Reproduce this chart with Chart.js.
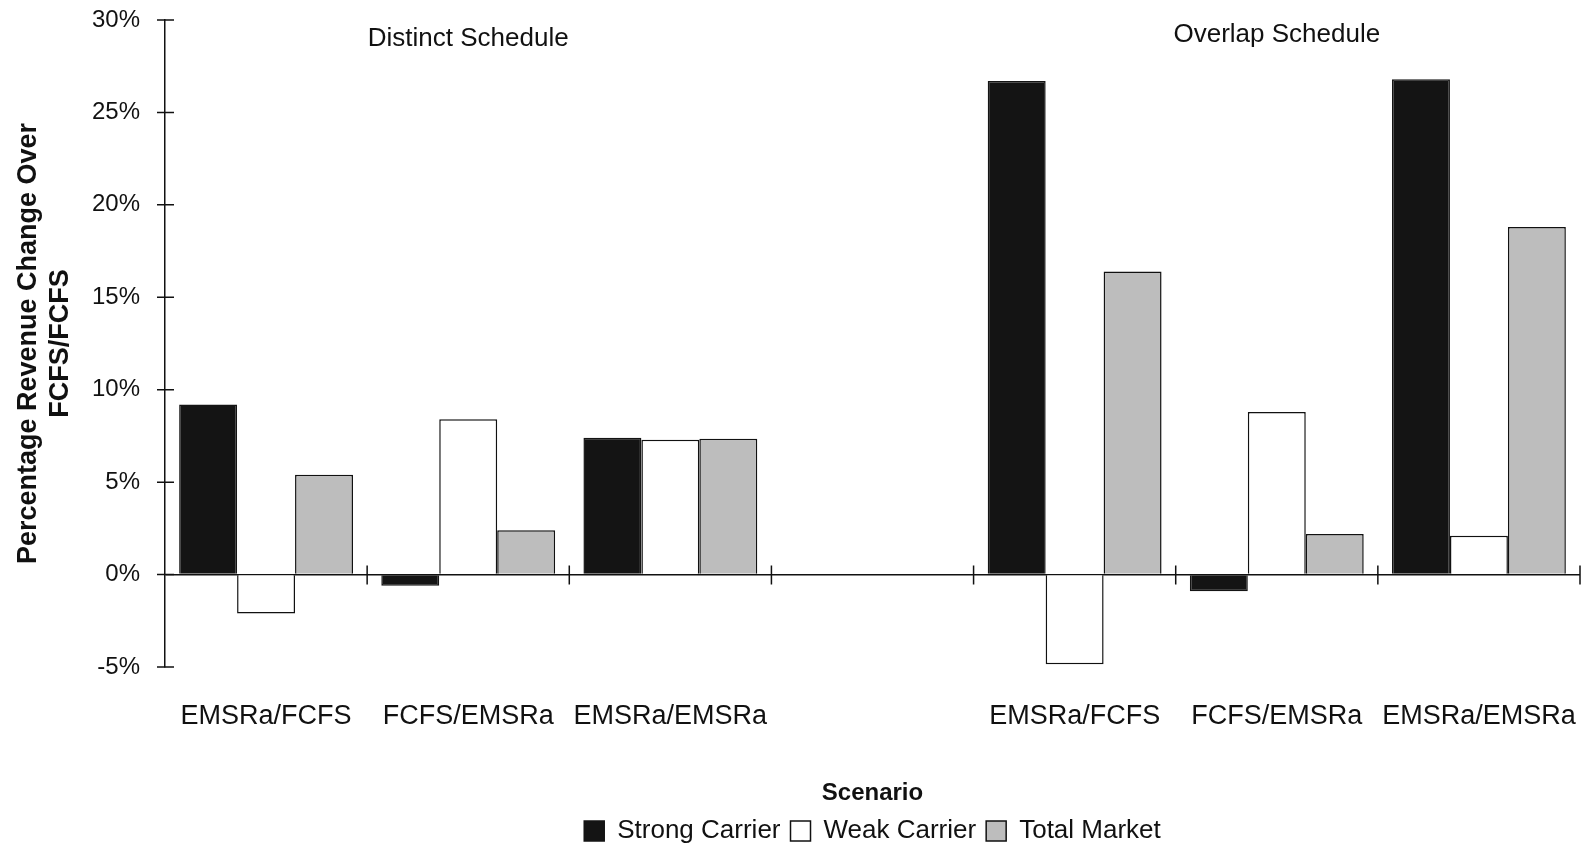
<!DOCTYPE html>
<html>
<head>
<meta charset="utf-8">
<script src="https://cdn.jsdelivr.net/npm/chart.js@4/dist/chart.umd.min.js"></script>
<style>
  html, body { margin: 0; padding: 0; background: #fff; }
  #wrap { width: 1583px; height: 846px; }
</style>
</head>
<body>
<div id="wrap"><canvas id="chart"></canvas></div>
<script>
const scenarios = ["EMSRa/FCFS", "FCFS/EMSRa", "EMSRa/EMSRa", "", "EMSRa/FCFS", "FCFS/EMSRa", "EMSRa/EMSRa"];
const strongCarrier = [9.2, -0.6, 7.4, null, 26.7, -0.9, 26.8];
const weakCarrier = [-2.1, 8.4, 7.3, null, -4.85, 8.8, 2.1];
const totalMarket = [5.4, 2.4, 7.35, null, 16.4, 2.2, 18.8];
const yTicks = [-5, 0, 5, 10, 15, 20, 25, 30];
const groupNotes = [
    { text: "Distinct Schedule", index: 1, y: 29.0 },
    { text: "Overlap Schedule", index: 5, y: 29.2 }
];

const FONT = "'Liberation Sans', Arial, Helvetica, sans-serif";
const INK = "#111";
const CLEAR = "rgba(0,0,0,0)";

// crossing tick marks on both axes + the schedule headings
const decorations = {
    id: "decorations",
    afterDraw(chart) {
        const ctx = chart.ctx;
        const x = chart.scales.x;
        const y = chart.scales.y;
        const y0 = y.getPixelForValue(0);
        ctx.save();
        ctx.strokeStyle = INK;
        ctx.lineWidth = 1.5;
        ctx.beginPath();
        yTicks.forEach((v) => {
            const py = y.getPixelForValue(v);
            ctx.moveTo(x.left - 8, py);
            ctx.lineTo(x.left + 9, py);
        });
        const step = (x.right - x.left) / scenarios.length;
        for (let i = 1; i <= scenarios.length; i++) {
            const px = x.left + i * step;
            ctx.moveTo(px, y0 - 9);
            ctx.lineTo(px, y0 + 10);
        }
        ctx.stroke();

        ctx.fillStyle = INK;
        ctx.font = "26px " + FONT;
        ctx.textAlign = "center";
        ctx.textBaseline = "middle";
        groupNotes.forEach((n) => {
            ctx.fillText(n.text, x.getPixelForValue(n.index), y.getPixelForValue(n.y));
        });
        ctx.restore();
    }
};

new Chart(document.getElementById("chart"), {
    type: "bar",
    data: {
        labels: scenarios,
        datasets: [
            {
                label: "Strong Carrier",
                data: strongCarrier,
                backgroundColor: "#141414",
                borderColor: "#141414",
                borderWidth: 1.5,
            },
            {
                label: "Weak Carrier",
                data: weakCarrier,
                backgroundColor: "#ffffff",
                borderColor: INK,
                borderWidth: 1.5,
            },
            {
                label: "Total Market",
                data: totalMarket,
                backgroundColor: "#bdbdbd",
                borderColor: INK,
                borderWidth: 1.5,
            },
        ],
    },
    options: {
        responsive: true,
        maintainAspectRatio: false,
        animation: false,
        layout: { padding: { top: 20, right: 3, left: 0, bottom: -8 } },
        categoryPercentage: 0.86,
        barPercentage: 1.0,
        plugins: {
            tooltip: { enabled: false },
            legend: {
                position: "bottom",
                fullSize: false,
                labels: {
                    color: INK,
                    font: { family: FONT, size: 26 },
                    boxWidth: 20,
                    boxHeight: 20,
                    padding: 10,
                },
            },
        },
        scales: {
            x: {
                grid: {
                    display: true,
                    drawOnChartArea: false,
                    drawTicks: true,
                    tickLength: 33,
                    color: CLEAR,
                    tickColor: CLEAR,
                },
                border: { display: false },
                ticks: {
                    color: INK,
                    font: { family: FONT, size: 27 },
                    padding: 0,
                    maxRotation: 0,
                    autoSkip: false,
                },
                title: {
                    display: true,
                    text: "Scenario",
                    color: INK,
                    font: { family: FONT, size: 24, weight: "bold" },
                    padding: { top: 0, bottom: 0 },
                },
                afterFit(scale) { scale.height = 141; },
            },
            y: {
                min: -5,
                max: 30,
                ticks: {
                    stepSize: 5,
                    color: INK,
                    font: { family: FONT, size: 24 },
                    padding: 0,
                    callback: (v) => v + "%",
                },
                grid: {
                    drawTicks: true,
                    tickLength: 25,
                    tickColor: CLEAR,
                    color: (c) => (c.tick && c.tick.value === 0 ? INK : CLEAR),
                    lineWidth: 1.5,
                },
                border: { display: true, color: INK, width: 1.5 },
                title: {
                    display: true,
                    text: ["Percentage Revenue Change Over", "FCFS/FCFS"],
                    color: INK,
                    font: { family: FONT, size: 27, weight: "bold" },
                    padding: { top: 12, bottom: 0 },
                },
                afterFit(scale) { scale.width = 165; },
            },
        },
    },
    plugins: [decorations],
});
</script>
</body>
</html>
